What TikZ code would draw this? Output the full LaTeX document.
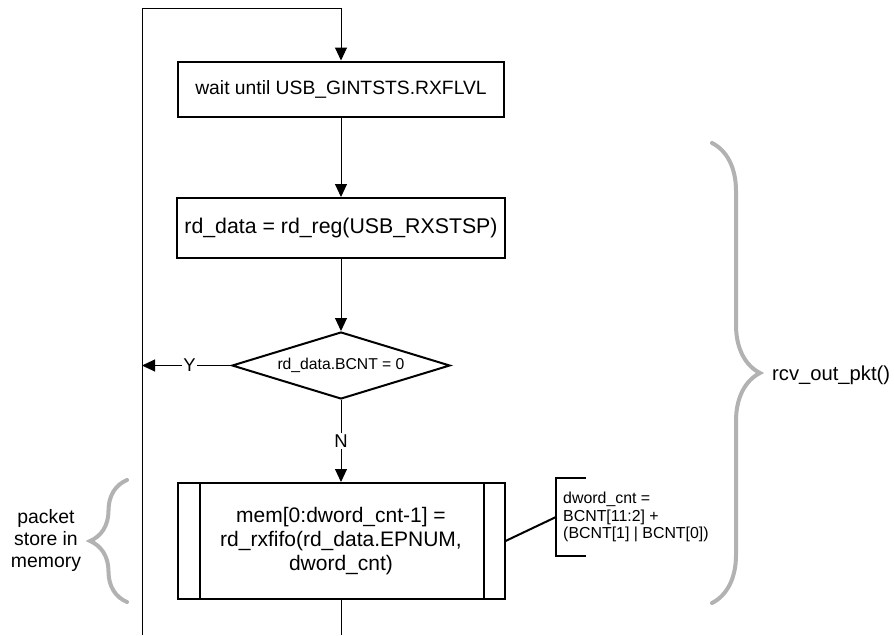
\documentclass[tikz,border=0pt]{standalone}
\usepackage{fontspec}
\setmainfont{Liberation Sans}
\usetikzlibrary{arrows.meta,shapes.geometric,decorations.pathreplacing}

\begin{document}
\begin{tikzpicture}[x=1pt,y=-1pt]
	\tikzstyle{every node}+=[inner sep=0pt]
	\tikzstyle{block}=[draw,line width=2pt,rectangle,align=center]
	\tikzstyle{decision}=[draw,line width=2pt,diamond,aspect=3.25]
	\tikzstyle{flow}=[line width=1pt,-{Triangle[length=13pt,width=12pt]}]
	\tikzstyle{gbrace}=[draw=black!30,line width=4pt,line cap=round,decorate]
	\useasboundingbox (0,0) rectangle (894,635);
	% flow chart
	\node [block,minimum width=326,minimum height=55,font=\fontsize{19.3}{22}\selectfont] (wait) at (341,89) {wait until USB\_GINTSTS.RXFLVL};
	\node [block,minimum width=328,minimum height=60,font=\fontsize{21.3}{24}\selectfont] (rdreg) at (341,228) {rd\_data = rd\_reg(USB\_RXSTSP)};
	\node [decision,minimum width=218,minimum height=67,font=\fontsize{15.7}{18}\selectfont] (bcnt) at (341,365.5) {rd\_data.BCNT = 0};
	\node [block,minimum width=327,minimum height=116,font=\fontsize{21}{24}\selectfont] (store) at (341,541) {mem[0:dword\_cnt-1] =\\rd\_rxfifo(rd\_data.EPNUM,\\dword\_cnt)};
	\draw [line width=2pt] ([xshift=23]store.north west) -- ([xshift=23]store.south west);
	\draw [line width=2pt] ([xshift=-22]store.north east) -- ([xshift=-22]store.south east);
	\coordinate (top) at (142,8);
	\coordinate (bot) at (142,635);
	\coordinate (end) at (341,635);
	\draw [flow] (bot) -- (top) -| (wait.north);
	\draw [flow] (wait.south) -- (rdreg.north);
	\draw [flow] (rdreg.south) -- (bcnt.north);
	\draw [flow] (bcnt.west) -- node [pos=0.467,fill=white,inner sep=1.5pt,font=\fontsize{18.5}{20}\selectfont] (yes) {Y} (bcnt.west -| top);
	\draw [flow] (bcnt.south) -- node [fill=white,inner sep=1.5pt,font=\fontsize{18.5}{20}\selectfont] (no) {N} (store.north);
	\draw [line width=1pt] (store.south) -- (end);
	% note on dword_cnt
	\node [anchor=west,align=left,inner xsep=7pt,minimum height=78,font=\fontsize{15.9}{17.5}\selectfont] (cnt) at (556,517) {dword\_cnt =\\BCNT[11:2] +\\(BCNT[1] | BCNT[0])};
	\draw [line width=2pt] ([xshift=30]cnt.north west) -- (cnt.north west) -- (cnt.south west) -- ([xshift=30]cnt.south west);
	\draw [line width=2pt] (store.east) -- (cnt.west);
	% braces
	\draw [gbrace,decoration={brace,amplitude=37}] (127,602) -- (127,480);
	\node [align=center,font=\fontsize{19.4}{22}\selectfont] (pkt) at (46,540) {packet\\store in\\memory};
	\draw [gbrace,decoration={brace,amplitude=48}] (712,143) -- (712,603);
	\node [anchor=west,font=\fontsize{20.2}{23}\selectfont] (rcv) at (772,375) {rcv\_out\_pkt()};
\end{tikzpicture}
\end{document}
